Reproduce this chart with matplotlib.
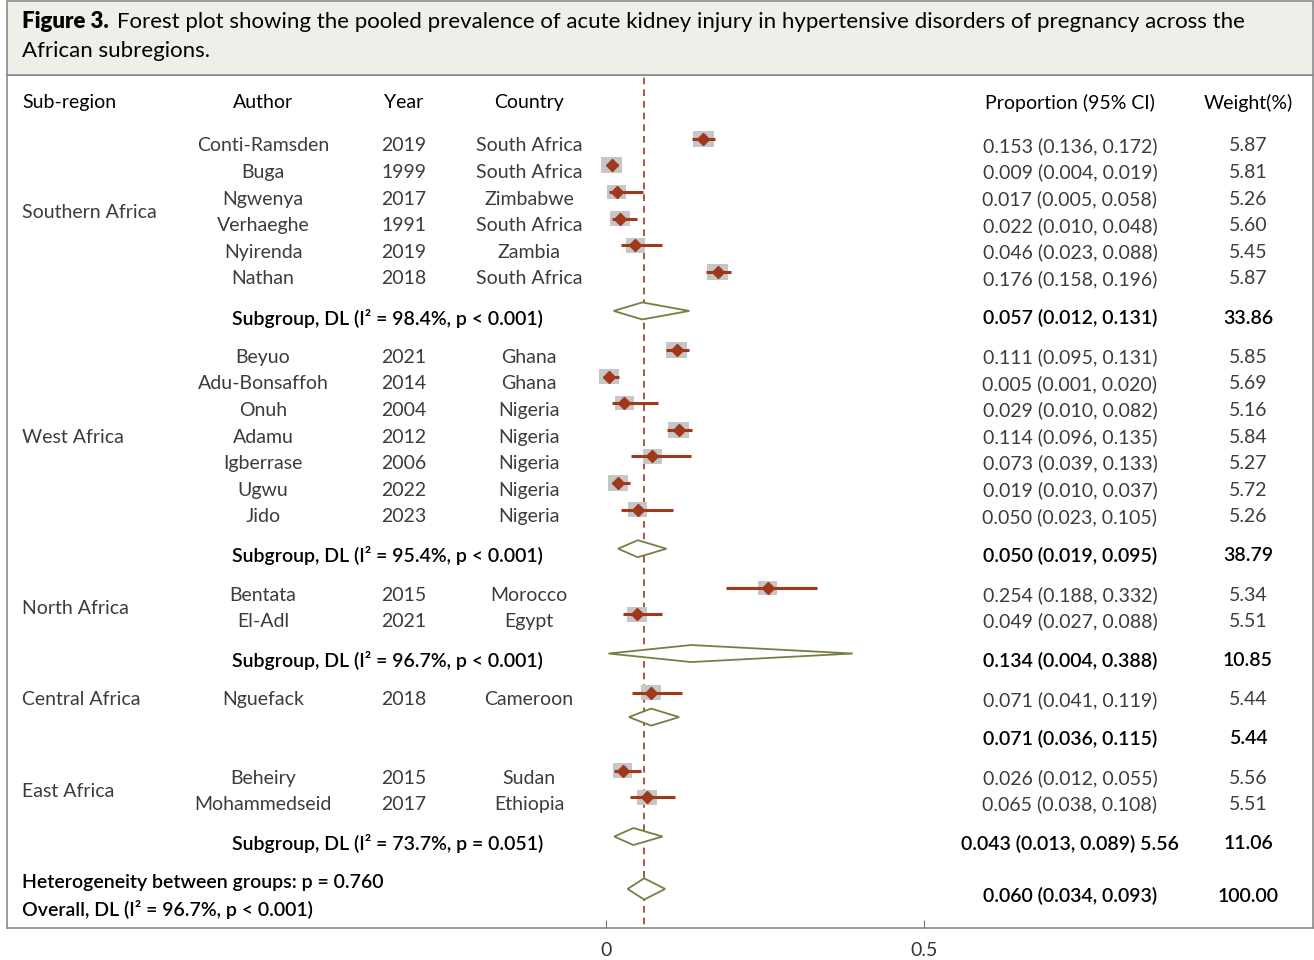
import matplotlib.pyplot as plt
from matplotlib.patches import Rectangle, Polygon
import matplotlib.transforms as mtransforms

plt.rcParams['font.family'] = ['Lato', 'DejaVu Sans']

# Data

regions = ["Southern Africa", "West Africa", "North Africa", "Central Africa", "East Africa"]
authors = [
    ["Conti-Ramsden", "Buga", "Ngwenya", "Verhaeghe", "Nyirenda", "Nathan"],
    ["Beyuo", "Adu-Bonsaffoh", "Onuh", "Adamu", "Igberrase", "Ugwu", "Jido"],
    ["Bentata", "El-Adl"],
    ["Nguefack"],
    ["Beheiry", "Mohammedseid"],
]
years = [
    [2019, 1999, 2017, 1991, 2019, 2018],
    [2021, 2014, 2004, 2012, 2006, 2022, 2023],
    [2015, 2021],
    [2018],
    [2015, 2017],
]
countries = [
    ["South Africa", "South Africa", "Zimbabwe", "South Africa", "Zambia", "South Africa"],
    ["Ghana", "Ghana", "Nigeria", "Nigeria", "Nigeria", "Nigeria", "Nigeria"],
    ["Morocco", "Egypt"],
    ["Cameroon"],
    ["Sudan", "Ethiopia"],
]
est = [
    [0.153, 0.009, 0.017, 0.022, 0.046, 0.176],
    [0.111, 0.005, 0.029, 0.114, 0.073, 0.019, 0.050],
    [0.254, 0.049],
    [0.071],
    [0.026, 0.065],
]
lo = [
    [0.136, 0.004, 0.005, 0.010, 0.023, 0.158],
    [0.095, 0.001, 0.010, 0.096, 0.039, 0.010, 0.023],
    [0.188, 0.027],
    [0.041],
    [0.012, 0.038],
]
hi = [
    [0.172, 0.019, 0.058, 0.048, 0.088, 0.196],
    [0.131, 0.020, 0.082, 0.135, 0.133, 0.037, 0.105],
    [0.332, 0.088],
    [0.119],
    [0.055, 0.108],
]
weights = [
    [5.87, 5.81, 5.26, 5.60, 5.45, 5.87],
    [5.85, 5.69, 5.16, 5.84, 5.27, 5.72, 5.26],
    [5.34, 5.51],
    [5.44],
    [5.56, 5.51],
]
sub_est = [0.057, 0.050, 0.134, 0.071, 0.043]
sub_lo = [0.012, 0.019, 0.004, 0.036, 0.013]
sub_hi = [0.131, 0.095, 0.388, 0.115, 0.089]
sub_w = ["33.86", "38.79", "10.85", "5.44", "11.06"]
sub_i2 = ["98.4%", "95.4%", "96.7%", None, "73.7%"]
sub_p = ["p < 0.001", "p < 0.001", "p < 0.001", None, "p = 0.051"]
overall = (0.060, 0.034, 0.093)
overall_i2 = "96.7%"
het_p = "0.760"

# Layout (pixels of a 1314x960 figure)
W, H = 1314, 960
PX0, PXU = 606, 636          # pixel of x=0 and pixels per unit
ROW0, STEP, GAP = 146, 26.6, 1.47
BOX_TOP, BOX_BOT, BOX_L, BOX_R = 75, 928, 7, 1313

STUDY_C = '#3c3c3c'
RED = '#a0381c'
OLIVE = '#7d7b45'
SUMW = 'semibold'

fig = plt.figure(figsize=(W / 100, H / 100), dpi=100)

# title box
fig.patches.append(Rectangle((BOX_L / W, 1 - BOX_TOP / H), (BOX_R - BOX_L) / W, (BOX_TOP - 1) / H,
                             transform=fig.transFigure, facecolor='#efefea',
                             edgecolor='#8a8a8a', linewidth=1.2, zorder=0))
t1 = fig.text(22 / W, 1 - 22 / H, "Figure 3.", fontsize=16, va='center', ha='left', fontweight='heavy')
fig.add_artist(plt.Annotation(
    "Forest plot showing the pooled prevalence of acute kidney injury in hypertensive disorders of pregnancy across the",
    xy=(1, 0.5), xycoords=t1, xytext=(6, 0), textcoords='offset points',
    fontsize=16, va='center', ha='left'))
fig.text(22 / W, 1 - 51 / H, "African subregions.", fontsize=16, va='center', ha='left')

ax = fig.add_axes([BOX_L / W, 1 - BOX_BOT / H, (BOX_R - BOX_L) / W, (BOX_BOT - BOX_TOP) / H])
ax.set_xlim((BOX_L - PX0) / PXU, (BOX_R - PX0) / PXU)
ax.set_ylim((BOX_BOT - ROW0) / STEP, (BOX_TOP - ROW0) / STEP)
for s in ax.spines.values():
    s.set_color('#8a8a8a')
    s.set_linewidth(1.2)
ax.set_yticks([])
ax.set_xticks([0, 0.5])
ax.set_xticklabels(["0", "0.5"])
ax.tick_params(axis='x', direction='in', length=6, color='#707070', labelsize=14,
               labelcolor='#333333', pad=10)

# text columns: x in figure pixels, y in row units
tr = mtransforms.blended_transform_factory(fig.transFigure, ax.transData)


def col(px):
    return px / W


FS = 14
MOFF = -0.27   # marks sit a bit above the text line
HDR = -1.62

ax.text(col(22), HDR, "Sub-region", transform=tr, fontsize=FS, ha='left', va='center')
ax.text(col(263), HDR, "Author", transform=tr, fontsize=FS, ha='center', va='center')
ax.text(col(404), HDR, "Year", transform=tr, fontsize=FS, ha='center', va='center')
ax.text(col(529), HDR, "Country", transform=tr, fontsize=FS, ha='center', va='center')
ax.text(col(1070), HDR, "Proportion (95% CI)", transform=tr, fontsize=FS, ha='center', va='center')
ax.text(col(1248), HDR, "Weight(%)", transform=tr, fontsize=FS, ha='center', va='center')


def diamond(y, c, l, h, half):
    ax.add_patch(Polygon([(l, y), (c, y - half), (h, y), (c, y + half)], closed=True,
                         facecolor='white', edgecolor=OLIVE, linewidth=1.3, zorder=3))


y = 0.0
for g in range(len(regions)):
    n = len(authors[g])
    ys = []
    for i in range(n):
        ys.append(y)
        ax.text(col(263), y, authors[g][i], transform=tr, fontsize=FS, ha='center', va='center', color=STUDY_C)
        ax.text(col(404), y, str(years[g][i]), transform=tr, fontsize=FS, ha='center', va='center', color=STUDY_C)
        ax.text(col(529), y, countries[g][i], transform=tr, fontsize=FS, ha='center', va='center', color=STUDY_C)
        ax.text(col(1070), y, "%.3f (%.3f, %.3f)" % (est[g][i], lo[g][i], hi[g][i]), transform=tr,
                fontsize=FS, ha='center', va='center', color=STUDY_C)
        ax.text(col(1248), y, "%.2f" % weights[g][i], transform=tr, fontsize=FS, ha='center', va='center',
                color=STUDY_C)
        my = y + MOFF
        bw = 3.58 * weights[g][i] / PXU
        bh = 2.73 * weights[g][i] / STEP
        ax.add_patch(Rectangle((est[g][i] - bw / 2, my - bh / 2), bw, bh, facecolor='#c6c6c6',
                               edgecolor='none', zorder=2))
        ax.plot([lo[g][i], hi[g][i]], [my, my], color=RED, linewidth=2.2, solid_capstyle='butt', zorder=3)
        ax.plot(est[g][i], my, marker='D', color=RED, markersize=6.5, zorder=4)
        if i < n - 1:
            y += 1
    ax.text(col(22), (ys[0] + ys[-1]) / 2, regions[g], transform=tr, fontsize=FS, ha='left', va='center',
            color=STUDY_C)
    y += GAP
    pooled = "%.3f (%.3f, %.3f)" % (sub_est[g], sub_lo[g], sub_hi[g])
    if sub_i2[g] is None:
        # single study: pooled diamond sits under the study, figures one row lower
        diamond(ys[-1] + MOFF + 0.92, sub_est[g], sub_lo[g], sub_hi[g], 0.32)
    else:
        diamond(y + MOFF, sub_est[g], sub_lo[g], sub_hi[g], 0.32)
        ax.text(col(232), y, "Subgroup, DL (I² = %s, %s)" % (sub_i2[g], sub_p[g]), transform=tr,
                fontsize=FS, ha='left', va='center', fontweight=SUMW)
    if g == len(regions) - 1:
        pooled += " " + "%.2f" % weights[g][0]
    ax.text(col(1070), y, pooled, transform=tr, fontsize=FS, ha='center', va='center', fontweight=SUMW)
    ax.text(col(1248), y, sub_w[g], transform=tr, fontsize=FS, ha='center', va='center', fontweight=SUMW)
    y += GAP

# overall
y_het = y
y_ov = y + 1
ymid = (y_het + y_ov) / 2
ax.text(col(22), y_het, "Heterogeneity between groups: p = " + het_p, transform=tr, fontsize=FS,
        ha='left', va='center', fontweight=SUMW)
ax.text(col(22), y_ov, "Overall, DL (I² = %s, p < 0.001)" % overall_i2, transform=tr, fontsize=FS,
        ha='left', va='center', fontweight=SUMW)
ax.text(col(1070), ymid, "%.3f (%.3f, %.3f)" % overall, transform=tr, fontsize=FS, ha='center',
        va='center', fontweight=SUMW)
ax.text(col(1248), ymid, "100.00", transform=tr, fontsize=FS, ha='center', va='center', fontweight=SUMW)
diamond(ymid + MOFF, overall[0], overall[1], overall[2], 0.4)

ax.plot([overall[0], overall[0]], [-3.0, ymid + 1.1], color=RED, linewidth=1.2,
        linestyle=(0, (4, 3)), zorder=1, clip_on=False)

fig.savefig("out.png", dpi=100)
